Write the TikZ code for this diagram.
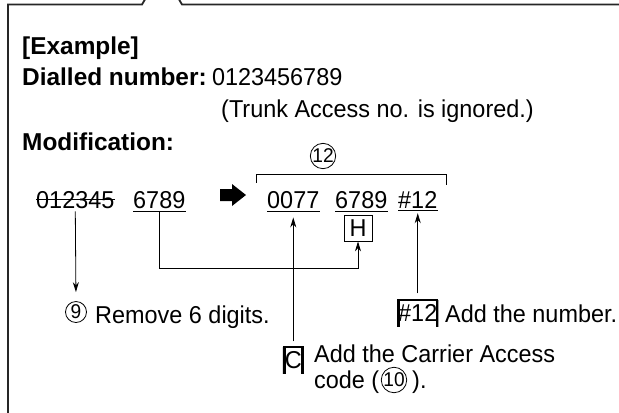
\documentclass[tikz,border=0pt]{standalone}
\usepackage{fontspec}
\setmainfont{Liberation Sans}[FakeStretch=0.96, BoldFeatures={FakeStretch=1.0}]
\usetikzlibrary{arrows.meta, positioning, calc}

\begin{document}
\begin{tikzpicture}[
    x=1bp, y=-1bp,
    font=\fontsize{24.5}{28}\selectfont,
    txt/.style     = {anchor=base west, inner sep=0pt},
    head/.style    = {txt, font=\fontsize{24.5}{28}\selectfont\bfseries},
    circnum/.style = {circle, draw, line width=0.8bp, inner sep=0pt,
                      minimum size=#1, font=\fontsize{20}{20}\selectfont},
    keybox/.style  = {inner sep=1bp, fill=white, minimum width=21bp,
                      minimum height=27bp,
                      path picture={
                        \draw[line width=6bp] (path picture bounding box.south west)
                            -- (path picture bounding box.north west);
                        \draw[line width=5bp] (path picture bounding box.south east)
                            -- (path picture bounding box.north east);
                        \draw[line width=2.4bp] (path picture bounding box.north west)
                            -- (path picture bounding box.north east);}},
    hbox/.style    = {draw, line width=0.8bp, inner sep=2bp,
                      minimum width=28bp, minimum height=26bp},
    link/.style    = {line width=0.8bp},
    arr/.style     = {link, -{Stealth[length=10bp,width=6bp]}},
    frame/.style   = {line width=1.8bp, draw=black!85}
]
\useasboundingbox (0,0) rectangle (619,412);
\clip (0,0) rectangle (619,412);

% callout frame with the tab at the top
\draw[frame] (8,416) -- (8,4.5) -- (142,4.5) -- (147,-4);
\draw[frame] (177,-4) -- (182,4.5) -- (624,4.5);

% heading lines
\node[head] (ex) at (22,54) {[Example]};
\node[head] (dn) at (22,85) {Dialled number:};
\node[txt] (dnum) at ([xshift=5bp]dn.base east) {0123456789};
\node[txt] (trunk) at (221,117) {(Trunk Access no. is ignored.)};
\node[head] (mod) at (22,150) {Modification:};

% dialled digits and modified digits
\node[txt] (d012345) at (36,208) {012345};
\node[txt] (d6789a) at (133,208) {6789};
\node[txt] (d0077) at (267,208) {0077};
\node[txt] (d6789b) at (335,208) {6789};
\node[txt] (d12) at (398,208) {\#12};

\draw[link] (d012345.west) -- (d012345.east);
\foreach \n in {d6789a,d0077,d6789b,d12}
    \draw[link] ([yshift=-2.5bp]\n.south west) -- ([yshift=-2.5bp]\n.south east);

\fill (220,189) -- (232,189) -- (232,184) -- (246,195) -- (232,206)
      -- (232,201) -- (220,201) -- cycle;

% bracket over the new number
\node[circnum=24bp] (c12) at (323,156) {12};
\draw[link] ($(d0077.north west)+(-11,-8)$) |- ($(c12.south)+(0,5)$)
    -| ($(d12.north east)+(9,-6)$);

\node[hbox] (hk) at (358,228) {H};

% notes
\node[circnum=21bp] (c9) at (76,312) {9};
\node[txt] (rm) at (95,323) {Remove 6 digits.};
\node[keybox] (k12) at (d12.south |- 0,313) {\#12};
\node[txt] (addn) at (445,322) {Add the number.};
\node[keybox] (kc) at (d0077.south |- 0,360) {C};
\node[txt] (addc) at (314,362) {Add the Carrier Access};
\node[txt] (code) at (314,388) {code (};
\node[circnum=23bp] (c10) at (394,380) {10};
\node[txt] (close) at (412,388) {).};

% connectors
\draw[arr, shorten >=9bp] ([yshift=-3bp]d012345.south) -- (c9.north);
\draw[arr] ([yshift=-2.5bp]d6789a.south) |- ($(hk.south)+(0,27)$) -- (hk.south);
\draw[arr] ([yshift=5bp]kc.north) -- ([yshift=-9bp]d0077.south);
\draw[arr] ([yshift=6bp]k12.north) -- ([yshift=-5bp]d12.south);

\end{tikzpicture}
\end{document}
